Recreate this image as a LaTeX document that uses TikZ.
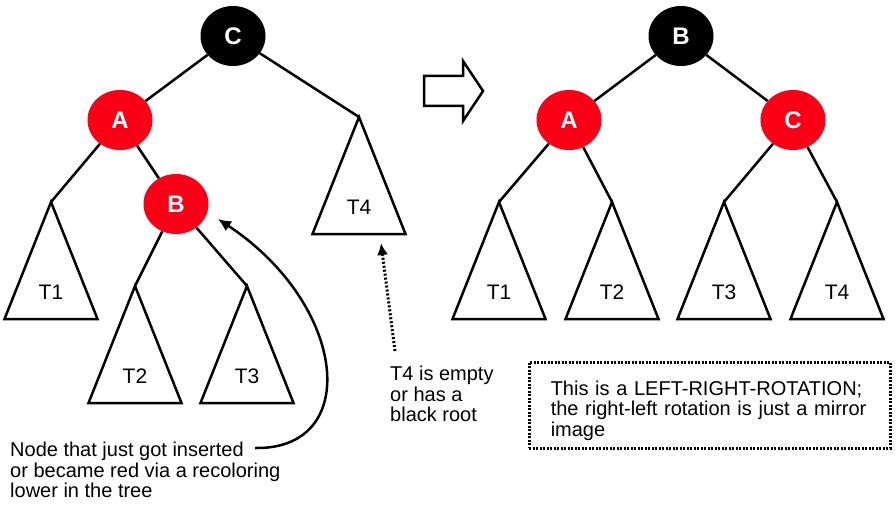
\documentclass[tikz,border=0pt]{standalone}
\usepackage{fontspec}
\setmainfont{Liberation Sans}
\usetikzlibrary{shapes.geometric,arrows.meta}

\definecolor{nodered}{RGB}{250,0,22}

\tikzset{
  rbnode/.style={ellipse, minimum width=65pt, minimum height=60pt, inner sep=0pt,
    text=white, font=\fontsize{24}{24}\selectfont\bfseries},
  rednode/.style={rbnode, fill=nodered},
  blacknode/.style={rbnode, fill=black},
  treeline/.style={line width=2.5pt},
  sublabel/.style={font=\fontsize{21}{21}\selectfont},
  notetext/.style={align=left, inner sep=0pt, anchor=north west,
    font=\fontsize{20}{20.5}\selectfont},
}

% triangle for a subtree: apex, label name, label text
\newcommand\subtree[3]{%
  \draw[treeline] (#1) -- ++(-46.5,117) -- ++(93,0) -- cycle;
  \path (#1) ++(0,90) node[sublabel] (#2) {#3};}

\begin{document}
\begin{tikzpicture}[x=1pt, y=-1pt]
  \useasboundingbox (0,0) rectangle (896,508);

  % Tree before the rotation:
  \node[blacknode] (lc) at (233,36) {C};
  \node[rednode] (la) at (120,120) {A};
  \node[rednode] (lb) at (176,204) {B};
  \coordinate (lt1) at (51,202);
  \coordinate (lt2) at (135,286);
  \coordinate (lt3) at (247,286);
  \coordinate (lt4) at (359,117);
  \draw[treeline] (lc) -- (la) (lc) -- (lt4) (la) -- (lt1) (la) -- (lb)
    (lb) -- (lt2) (lb) -- (lt3);
  \subtree{lt1}{ll1}{T1}
  \subtree{lt2}{ll2}{T2}
  \subtree{lt3}{ll3}{T3}
  \subtree{lt4}{ll4}{T4}

  % Hollow arrow:
  \draw[line width=2.5pt] (424,76) -- (463,76) -- (463,61) -- (483,91)
    -- (463,121) -- (463,106) -- (424,106) -- cycle;

  % Tree after the rotation:
  \node[blacknode] (rb) at (681,36) {B};
  \node[rednode] (ra) at (569,120) {A};
  \node[rednode] (rc) at (793,120) {C};
  \coordinate (rt1) at (499,202);
  \coordinate (rt2) at (612,202);
  \coordinate (rt3) at (724,202);
  \coordinate (rt4) at (837,202);
  \draw[treeline] (rb) -- (ra) (rb) -- (rc) (ra) -- (rt1) (ra) -- (rt2)
    (rc) -- (rt3) (rc) -- (rt4);
  \subtree{rt1}{rl1}{T1}
  \subtree{rt2}{rl2}{T2}
  \subtree{rt3}{rl3}{T3}
  \subtree{rt4}{rl4}{T4}

  % Notes and their arrows:
  \node[notetext] (insnote) at (10,442)
    {Node that just got inserted\\or became red via a recoloring\\lower in the tree};
  \coordinate (insstart) at (255,448);
  \coordinate (insend) at (218,219);
  \draw[line width=2.5pt, -{Latex[length=13pt,width=12pt]}]
    (insstart) .. controls (362,450) and (348,305) .. (insend);

  \node[notetext] (t4note) at (390,366) {T4 is empty\\or has a\\black root};
  \coordinate (dotstart) at (395,351);
  \coordinate (dotend) at (381,243);
  \draw[line width=3pt, dash pattern=on 2pt off 2pt,
    -{Latex[length=12pt,width=11pt]}] (dotstart) -- (dotend);

  \node[notetext, draw, line width=2.5pt, dash pattern=on 2pt off 1.5pt,
    minimum width=361pt, minimum height=86pt, text width=318pt] (rotnote) at (528,361)
    {\rule{0pt}{24.8pt}This is a LEFT-RIGHT-ROTATION;\\the right-left rotation is just a mirror\\image};
\end{tikzpicture}
\end{document}
